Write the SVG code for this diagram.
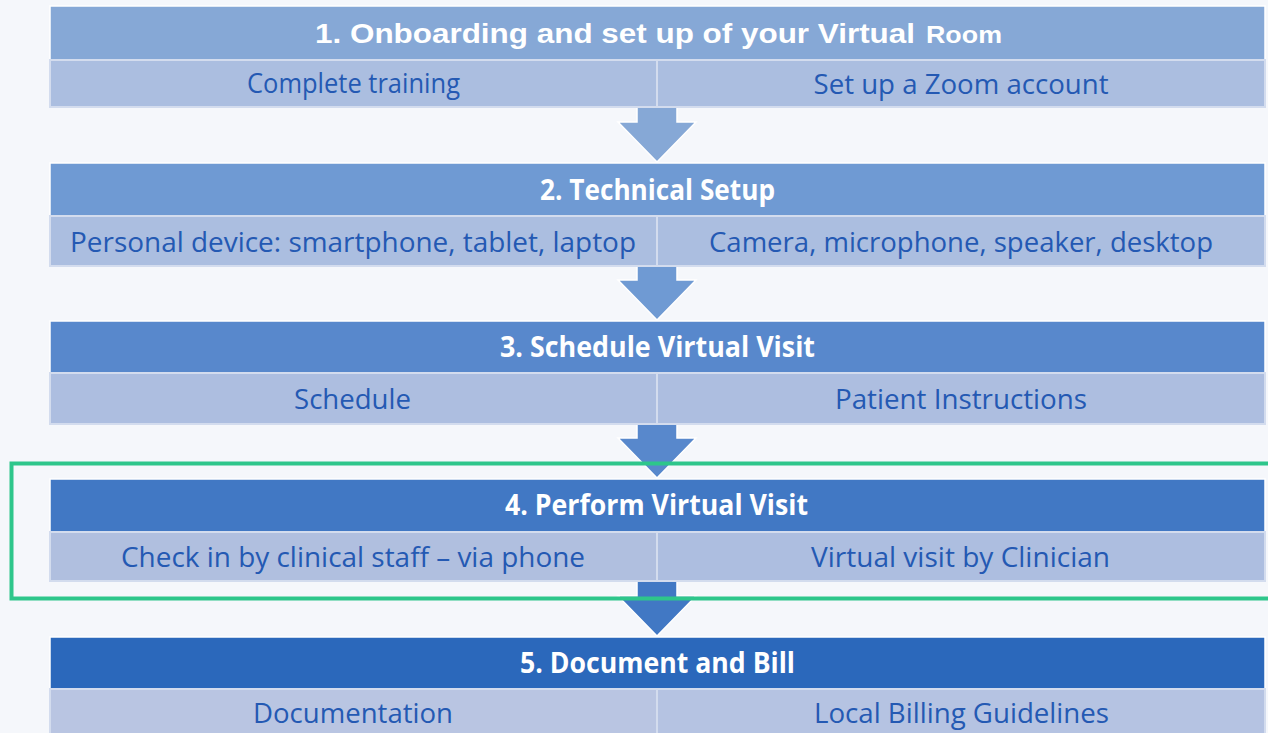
<svg xmlns="http://www.w3.org/2000/svg" width="1268" height="733" viewBox="0 0 1268 733">
<style>
.bg{fill:#f5f7fb}
.hdr{stroke:#ffffff;stroke-width:1.5}
.cell{stroke:#d3dcee;stroke-width:2}
.ht{font-family:"Open Sans","Liberation Sans",sans-serif;font-weight:bold;font-size:28px;fill:#ffffff;text-anchor:middle}
.ct{font-family:"Open Sans","Liberation Sans",sans-serif;font-size:28px;fill:#2459b3;text-anchor:middle}
.arr{stroke:#ffffff;stroke-width:1.5}
</style>
<rect class="bg" x="0" y="0" width="1268" height="733"/>
<g id="connectors">
<polygon class="arr" fill="#86a8d6" points="637,106 677,106 677,122 696,122 657,162 618,122 637,122"/>
<polygon class="arr" fill="#6f9ad3" points="637,265 677,265 677,280 696,280 657,320 618,280 637,280"/>
<polygon class="arr" fill="#5888cc" points="637,423 677,423 677,438 696,438 657,478 618,438 637,438"/>
<polygon class="arr" fill="#4178c4" points="637,580 677,580 677,596 696,596 657,636 618,596 637,596"/>
</g>
<g id="step1">
<rect class="hdr" x="50" y="6" width="1215" height="54" fill="#86a8d6"/>
<text class="ht" x="657" y="43" font-family="Liberation Sans" font-size="30"><tspan font-family="Liberation Sans,Arial,sans-serif" textLength="600" lengthAdjust="spacingAndGlyphs" x="615">1. Onboarding and set up of your Virtual</tspan><tspan x="964" font-size="24" textLength="76" lengthAdjust="spacingAndGlyphs" font-family="Liberation Sans,Arial,sans-serif">Room</tspan></text>
<rect class="cell" x="50" y="60" width="607" height="47" fill="#abbee0"/>
<rect class="cell" x="657" y="60" width="608" height="47" fill="#abbee0"/>
<text class="ct" x="353.5" y="93" textLength="213" lengthAdjust="spacingAndGlyphs">Complete training</text>
<text class="ct" x="961" y="94" textLength="295" lengthAdjust="spacingAndGlyphs">Set up a Zoom account</text>
</g>
<g id="step2">
<rect class="hdr" x="50" y="163" width="1215" height="53" fill="#6f9ad3"/>
<text class="ht" x="657.5" y="200" textLength="235" lengthAdjust="spacingAndGlyphs">2. Technical Setup</text>
<rect class="cell" x="50" y="216" width="607" height="50" fill="#abbee0"/>
<rect class="cell" x="657" y="216" width="608" height="50" fill="#abbee0"/>
<text class="ct" x="353" y="252" textLength="566" lengthAdjust="spacingAndGlyphs">Personal device: smartphone, tablet, laptop</text>
<text class="ct" x="961" y="252" textLength="504" lengthAdjust="spacingAndGlyphs">Camera, microphone, speaker, desktop</text>
</g>
<g id="step3">
<rect class="hdr" x="50" y="321" width="1215" height="52" fill="#5888cc"/>
<text class="ht" x="657.5" y="357" textLength="315" lengthAdjust="spacingAndGlyphs">3. Schedule Virtual Visit</text>
<rect class="cell" x="50" y="373" width="607" height="51" fill="#adbee0"/>
<rect class="cell" x="657" y="373" width="608" height="51" fill="#adbee0"/>
<text class="ct" x="352.5" y="409" textLength="117" lengthAdjust="spacingAndGlyphs">Schedule</text>
<text class="ct" x="961" y="409" textLength="252" lengthAdjust="spacingAndGlyphs">Patient Instructions</text>
</g>
<g id="step4">
<rect class="hdr" x="50" y="479" width="1215" height="53" fill="#4178c4"/>
<text class="ht" x="656.5" y="515" textLength="303" lengthAdjust="spacingAndGlyphs">4. Perform Virtual Visit</text>
<rect class="cell" x="50" y="532" width="607" height="49" fill="#b0bfdf"/>
<rect class="cell" x="657" y="532" width="608" height="49" fill="#adbee0"/>
<text class="ct" x="353" y="567" textLength="464" lengthAdjust="spacingAndGlyphs">Check in by clinical staff – via phone</text>
<text class="ct" x="960.5" y="567" textLength="299" lengthAdjust="spacingAndGlyphs">Virtual visit by Clinician</text>
</g>
<g id="step5">
<rect class="hdr" x="50" y="637" width="1215" height="52" fill="#2b68bb"/>
<text class="ht" x="657.5" y="673" textLength="275" lengthAdjust="spacingAndGlyphs">5. Document and Bill</text>
<rect class="cell" x="50" y="689" width="607" height="50" fill="#b9c5e2"/>
<rect class="cell" x="657" y="689" width="608" height="50" fill="#b5c3e2"/>
<text class="ct" x="353" y="723" textLength="200" lengthAdjust="spacingAndGlyphs">Documentation</text>
<text class="ct" x="961.5" y="723" textLength="295" lengthAdjust="spacingAndGlyphs">Local Billing Guidelines</text>
</g>
<g id="highlight">
<rect x="11.5" y="463.5" width="1262" height="135" fill="none" stroke="#2ec68b" stroke-width="4"/>
</g>
</svg>
